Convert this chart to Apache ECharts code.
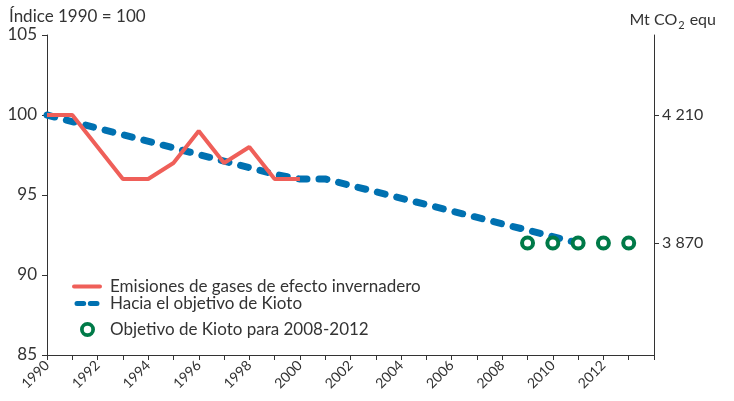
<!DOCTYPE html>
<html><head><meta charset="utf-8">
<script src="https://cdn.jsdelivr.net/npm/echarts@6/dist/echarts.min.js"></script>
<style>html,body{margin:0;padding:0;background:#fff}#c{width:734px;height:401px}</style>
</head><body><div id="c"></div>
<script>
const emisiones = [[1990,100],[1991,100],[1992,98],[1993,96],[1994,96],[1995,97],[1996,99],[1997,97],[1998,98],[1999,96],[2000,96]];
const haciaKioto = [[1990,100],[1999,96.3],[2000,96],[2001,96],[2011,92]];
const objetivoKioto = [[2009,92],[2010,92],[2011,92],[2012,92],[2013,92]];
const seriesNames = ['Emisiones de gases de efecto invernadero','Hacia el objetivo de Kioto','Objetivo de Kioto para 2008-2012'];
const leftTicks = [85,90,95,100,105];
const rightTickValues = [100, 92];
const rightTickLabels = ['4 210', '3 870'];
const FONT = 'Lato';
const RED = '#EF5F59', BLUE = '#0071B1', GREEN = '#007A48';
const chart = echarts.init(document.getElementById('c'));
chart.setOption({
  animation:false,
  textStyle:{fontFamily:FONT,color:'#333'},
  title:[
    {text:'Índice 1990 = 100',left:4,top:3,textStyle:{fontFamily:FONT,fontSize:17,fontWeight:'normal',color:'#333'}},
    {text:'{a|Mt CO}{s|2}{a| equ}',right:13,top:3,textStyle:{fontWeight:'normal',rich:{a:{fontFamily:FONT,fontSize:16,fontWeight:'normal',color:'#333'},s:{fontFamily:FONT,fontSize:11,fontWeight:'normal',color:'#333',padding:[12,1,0,1]}}}}
  ],
  grid:{left:47,right:80,top:35,bottom:46,containLabel:false},
  legend:[
    {data:[{name:seriesNames[0],icon:'path://M2,0H28A2,2 0 0 1 28,4H2A2,2 0 0 1 2,0Z'},
           {name:seriesNames[1],icon:'path://M3,0H11A3,3 0 0 1 11,6H3A3,3 0 0 1 3,0Z M19,0H27A3,3 0 0 1 27,6H19A3,3 0 0 1 19,0Z'}],
     orient:'vertical',left:67,top:273,itemWidth:30,itemHeight:5,itemGap:0,
     textStyle:{fontFamily:FONT,fontSize:17,color:'#333',lineHeight:17,padding:[0,0,0,3]}},
    {data:[{name:seriesNames[2],icon:'path://M7,0A7,7 0 1 1 7,14A7,7 0 1 1 7,0Z M7,3.5A3.5,3.5 0 1 0 7,10.5A3.5,3.5 0 1 0 7,3.5Z',
            itemStyle:{color:GREEN,borderWidth:0}}],
     orient:'vertical',left:75,top:316,itemWidth:15,itemHeight:15,
     textStyle:{fontFamily:FONT,fontSize:17,color:'#333',padding:[0,0,0,10]}}
  ],
  xAxis:{type:'value',min:1990,max:2014,interval:1,
    axisLine:{lineStyle:{color:'#333',width:1}},
    axisTick:{show:true,length:5,lineStyle:{color:'#333'}},
    splitLine:{show:false},
    axisLabel:{rotate:45,fontSize:14,color:'#333',margin:8,fontFamily:FONT,
      formatter:v=>(v%2===0 && v<2014)?String(v):''}
  },
  yAxis:[
    {type:'value',min:85,max:105,interval:5,position:'left',
     axisLine:{show:true,lineStyle:{color:'#333'}},
     axisTick:{show:true,length:5,lineStyle:{color:'#333'}},
     splitLine:{show:false},
     axisLabel:{fontSize:17,color:'#333',margin:10,fontFamily:FONT,
       customValues:leftTicks}},
    {type:'value',min:85,max:105,position:'right',
     axisLine:{show:true,lineStyle:{color:'#333'}},
     axisTick:{show:true,length:5,lineStyle:{color:'#333'},customValues:rightTickValues},
     splitLine:{show:false},
     axisLabel:{fontSize:16,color:'#333',margin:8,fontFamily:FONT,
       customValues:rightTickValues,
       formatter:v=>{const i=rightTickValues.indexOf(v);return i>=0?rightTickLabels[i]:'';}}}
  ],
  series:[
    {name:seriesNames[1],type:'line',data:haciaKioto,symbol:'none',z:2,
     lineStyle:{color:BLUE,width:7,type:[8,12],cap:'round'},itemStyle:{color:BLUE}},
    {name:seriesNames[0],type:'line',data:emisiones,symbol:'none',z:3,
     lineStyle:{color:RED,width:4},itemStyle:{color:RED}},
    {name:seriesNames[2],type:'scatter',data:objetivoKioto,symbol:'circle',symbolSize:11,z:4,
     itemStyle:{color:'#fff',borderColor:GREEN,borderWidth:4,opacity:1}}
  ]
});
</script></body></html>
